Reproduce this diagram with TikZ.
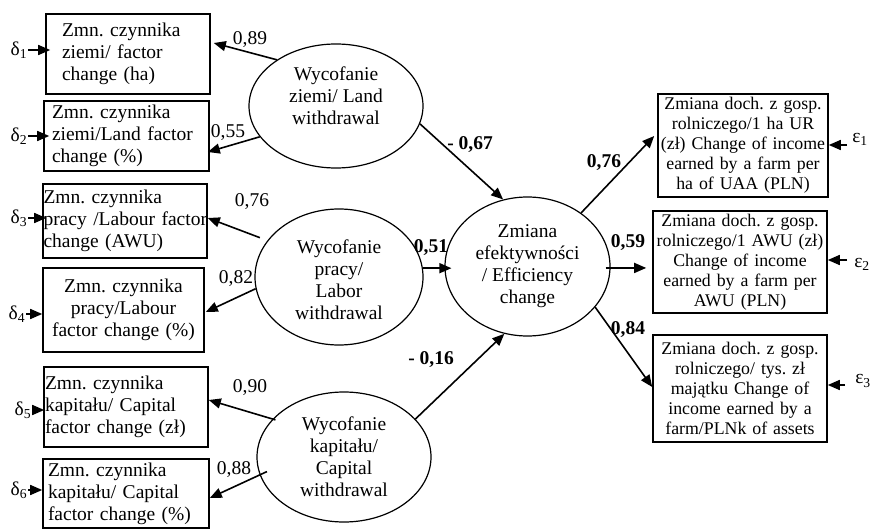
\documentclass[tikz,border=0pt]{standalone}
\usepackage{fontspec}
\setmainfont{Liberation Serif}
\usetikzlibrary{shapes.geometric,arrows.meta,calc}
\newcommand\nb[1]{\mbox{#1}}
\newcommand\shiftedtext[2]{\raisebox{#1}[0pt][0pt]{\begin{tabular}{@{}c@{}}#2\end{tabular}}}
\frenchspacing
\begin{document}
\frenchspacing
\begin{tikzpicture}[x=1pt,y=1pt,
  lbox/.style={draw,line width=1.6pt,rectangle,inner ysep=0pt,font=\fontsize{19.5}{22}\selectfont,align=left},
  rbox/.style={draw,line width=1.6pt,rectangle,inner ysep=0pt,inner xsep=1pt,font=\fontsize{17.8}{20}\selectfont,align=center},
  lat/.style={draw,ellipse,line width=1.2pt,inner sep=0pt,font=\fontsize{19.5}{22}\selectfont,align=center},
  arr/.style={line width=1.6pt,-{Triangle[length=12pt,width=10pt]}},
  lab/.style={font=\fontsize{19.5}{22}\selectfont,inner sep=0pt},
  blab/.style={font=\fontsize{19.5}{22}\selectfont\bfseries,inner sep=0pt},
  err/.style={font=\fontsize{19.5}{22}\selectfont,inner sep=1pt},
]
\useasboundingbox (0,0) rectangle (875,-532);

% left indicator boxes
\node[lbox,text width=132pt,inner xsep=16pt,minimum height=80pt] (b1) at (128,-54) {\nb{Zmn. czynnika}\\\nb{ziemi/ factor}\\\nb{change (ha)}};
\node[lbox,text width=149pt,inner xsep=8pt,minimum height=70pt] (b2) at (126.5,-136) {\nb{Zmn. czynnika}\\\nb{ziemi/Land factor}\\\nb{change (\%)}};
\node[lbox,text width=163pt,inner xsep=0.5pt,minimum height=74pt] (b3) at (125,-221) {\nb{Zmn. czynnika}\\\nb{pracy /Labour factor}\\\nb{change (AWU)}};
\node[lbox,align=center,text width=157pt,inner xsep=2pt,minimum height=84pt] (b4) at (123.5,-310) {\nb{Zmn. czynnika}\\\nb{pracy/Labour}\\\nb{factor change (\%)}};
\node[lbox,text width=162pt,inner xsep=1pt,minimum height=80pt] (b5) at (126,-407) {\nb{Zmn. czynnika}\\\nb{kapitału/ Capital}\\\nb{factor change (zł)}};
\node[lbox,text width=156pt,inner xsep=5pt,minimum height=69pt] (b6) at (126,-493.5) {\nb{Zmn. czynnika}\\\nb{kapitału/ Capital}\\\nb{factor change (\%)}};

% right indicator boxes
\node[rbox,text width=168pt,minimum height=103pt] (r1) at (743,-145.5) {\nb{Zmiana doch. z gosp.}\\\nb{rolniczego/1 ha UR}\\\nb{(zł) Change of income}\\\nb{earned by a farm per}\\\nb{ha of UAA (PLN)}};
\node[rbox,text width=172pt,minimum height=102pt] (r2) at (740,-262) {\nb{Zmiana doch. z gosp.}\\\nb{rolniczego/1 AWU (zł)}\\\nb{Change of income}\\\nb{earned by a farm per}\\\nb{AWU (PLN)}};
\node[rbox,text width=172pt,minimum height=107pt] (r3) at (740,-388.5) {\nb{Zmiana doch. z gosp.}\\\nb{rolniczego/ tys. zł}\\\nb{majątku Change of}\\\nb{income earned by a}\\\nb{farm/PLNk of assets}};

% latent variables
\node[lat,minimum width=174pt,minimum height=124pt] (land) at (336,-106) {\shiftedtext{3pt}{Wycofanie\\ziemi/ Land\\withdrawal}};
\node[lat,minimum width=168pt,minimum height=136pt] (labor) at (339,-277) {\shiftedtext{-10pt}{Wycofanie\\pracy/\\Labor\\withdrawal}};
\node[lat,minimum width=165pt,minimum height=139pt] (eff) at (527.5,-266.5) {Zmiana\\efektywności\\/ Efficiency\\change};
\node[lat,minimum width=174pt,minimum height=130pt] (cap) at (344,-457) {Wycofanie\\kapitału/\\Capital\\withdrawal};

% error terms (left)
\node[err] (d1) at (19,-50) {δ\textsubscript{1}};
\node[err] (d2) at (19,-136) {δ\textsubscript{2}};
\node[err] (d3) at (19,-218) {δ\textsubscript{3}};
\node[err] (d4) at (17,-314) {δ\textsubscript{4}};
\node[err] (d5) at (23,-410) {δ\textsubscript{5}};
\node[err] (d6) at (19,-490) {δ\textsubscript{6}};
\draw[arr,shorten >=-5pt] (d1.east) -- (d1.east -| b1.west);
\draw[arr,shorten >=-6pt] (d2.east) -- (d2.east -| b2.west);
\draw[arr,shorten >=-4pt] (d3.east) -- (d3.east -| b3.west);
\draw[arr] (d4.east) -- (d4.east -| b4.west);
\draw[arr,shorten >=-1pt] (d5.east) -- (d5.east -| b5.west);
\draw[arr] (d6.east) -- (d6.east -| b6.west);

% error terms (right)
\node[err] (e1) at (860,-139) {ε\textsubscript{1}};
\node[err] (e2) at (862,-264) {ε\textsubscript{2}};
\node[err] (e3) at (863,-381) {ε\textsubscript{3}};
\coordinate (ce1) at (847,-145);
\coordinate (ce2) at (847,-260);
\coordinate (ce3) at (845,-385);
\draw[arr] (ce1) -- (ce1 -| r1.east);
\draw[arr] (ce2) -- (ce2 -| r2.east);
\draw[arr] (ce3) -- (ce3 -| r3.east);

% loadings (left)
\draw[arr] (land.142) -- ([xshift=3pt,yshift=11pt]b1.east);
\draw[arr] (land.202) -- ([xshift=-2pt,yshift=-16pt]b2.east);
\draw[arr,shorten <=8pt] (labor.153) -- ([yshift=3pt]b3.east);
\draw[arr] (labor.188) -- ([xshift=1pt,yshift=-2pt]b4.east);
\draw[arr,shorten <=-3pt] (cap.152) -- ([yshift=7pt]b5.east);
\draw[arr,shorten <=-8pt] (cap.192) -- ([yshift=-4.5pt]b6.east);

% structural paths
\draw[arr] (land.-12) -- (eff.110);
\draw[arr,shorten >=-7pt] (labor.6) -- (labor.6 -| eff.west);
\draw[arr] (cap.28) -- (eff.251);

% loadings (right)
\draw[arr] (eff.45) -- ([xshift=-3pt,yshift=9.5pt]r1.west);
\draw[arr,shorten <=-5pt,shorten >=6pt] (eff.-1) -- (eff.-1 -| r2.west);
\draw[arr] (eff.-31) -- ([yshift=1.5pt]r3.west);

% coefficient labels
\node[lab] (l89) at (250,-40) {0,89};
\node[lab] (l55) at (228,-133) {0,55};
\node[lab] (l76a) at (252,-202) {0,76};
\node[lab] (l82) at (236,-279) {0,82};
\node[lab] (l90) at (250,-388) {0,90};
\node[lab] (l88) at (234,-470) {0,88};
\node[blab] (l67) at (470,-145) {- 0,67};
\node[blab] (l51) at (431,-248) {0,51};
\node[blab] (l16) at (431,-360) {- 0,16};
\node[blab] (l76b) at (604,-163) {0,76};
\node[blab] (l59) at (628,-243) {0,59};
\node[blab] (l84) at (628,-330) {0,84};
\end{tikzpicture}
\end{document}
